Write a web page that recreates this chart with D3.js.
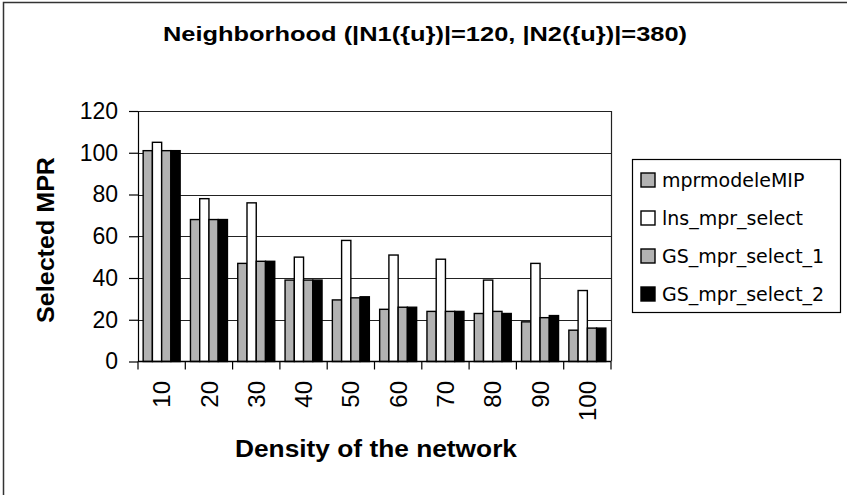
<!DOCTYPE html>
<html>
<head>
<meta charset="utf-8">
<script src="https://cdn.jsdelivr.net/npm/d3@7"></script>
<style>
  html, body { margin: 0; padding: 0; background: #fff; }
  svg { display: block; }
</style>
</head>
<body>
<svg id="chart" width="847" height="495"></svg>
<script>
// Network densities on the category axis
const densities = ["10", "20", "30", "40", "50", "60", "70", "80", "90", "100"];

// Number of selected MPR for each method
const seriesNames = ["mprmodeleMIP", "lns_mpr_select", "GS_mpr_select_1", "GS_mpr_select_2"];
const mprmodeleMIP   = [101, 68, 47, 39, 29.5, 25, 24, 23, 19, 15];
const lnsMprSelect   = [105, 78, 76, 50, 58, 51, 49, 39, 47, 34];
const gsMprSelect1   = [101, 68, 48, 39, 30.5, 26, 24, 24, 21, 16];
const gsMprSelect2   = [101, 68, 48, 39, 31, 26, 24, 23, 22, 16];
const seriesValues = [mprmodeleMIP, lnsMprSelect, gsMprSelect1, gsMprSelect2];
const seriesFill = ["#b2b2b2", "#ffffff", "#b2b2b2", "#000000"];

const yTicks = [0, 20, 40, 60, 80, 100, 120];

const titleText = "Neighborhood (|N1({u})|=120, |N2({u})|=380)";
const xTitle = "Density of the network";
const yTitle = "Selected MPR";

const svg = d3.select("#chart");
const plot = { left: 138, right: 611, top: 111, bottom: 361.5 };

// Chart frame
svg.append("path")
  .attr("d", "M3.5,495 V2.5 H847")
  .attr("fill", "none")
  .attr("stroke", "#333")
  .attr("stroke-width", 1.5);

// Scales
const x0 = d3.scaleBand()
  .domain(densities)
  .range([plot.left, plot.right])
  .paddingInner(0.218)
  .paddingOuter(0.109);

const x1 = d3.scaleBand()
  .domain(seriesNames)
  .range([0, x0.bandwidth()]);

const y = d3.scaleLinear()
  .domain([0, 120])
  .range([plot.bottom, plot.top]);

// Horizontal gridlines
svg.append("g")
  .selectAll("line")
  .data(yTicks.filter(d => d > 0))
  .join("line")
  .attr("x1", plot.left)
  .attr("x2", plot.right)
  .attr("y1", d => Math.round(y(d)) + 0.5)
  .attr("y2", d => Math.round(y(d)) + 0.5)
  .attr("stroke", "#222")
  .attr("stroke-width", 1);

// Right edge of the plot area
svg.append("line")
  .attr("x1", plot.right + 0.5).attr("x2", plot.right + 0.5)
  .attr("y1", y(120)).attr("y2", plot.bottom)
  .attr("stroke", "#222").attr("stroke-width", 1.2);

// Bars
const rows = densities.map((d, i) => ({
  density: d,
  values: seriesNames.map((s, j) => ({ series: s, value: seriesValues[j][i], fill: seriesFill[j] }))
}));

svg.append("g")
  .selectAll("g")
  .data(rows)
  .join("g")
  .attr("transform", d => `translate(${x0(d.density)},0)`)
  .selectAll("rect")
  .data(d => d.values)
  .join("rect")
  .attr("x", d => x1(d.series))
  .attr("width", x1.bandwidth())
  .attr("y", d => y(d.value))
  .attr("height", d => y(0) - y(d.value))
  .attr("fill", d => d.fill)
  .attr("stroke", "#000")
  .attr("stroke-width", 1.4);

// Y axis
const yAxis = svg.append("g")
  .attr("transform", `translate(${plot.left},0)`)
  .call(d3.axisLeft(y).tickValues(yTicks).tickSize(9).tickPadding(11).tickSizeOuter(0));
yAxis.select(".domain").attr("stroke", "#000").attr("stroke-width", 1.2);
yAxis.selectAll(".tick line").attr("stroke", "#000").attr("stroke-width", 1.2);
yAxis.selectAll("text")
  .attr("font-family", "Liberation Sans, Arial, sans-serif")
  .attr("font-size", 23)
  .attr("fill", "#000");

// X axis with ticks between categories
const xAxisG = svg.append("g");
xAxisG.append("line")
  .attr("x1", plot.left).attr("x2", plot.right)
  .attr("y1", plot.bottom).attr("y2", plot.bottom)
  .attr("stroke", "#000").attr("stroke-width", 1.4);

const step = x0.step();
const boundaries = d3.range(densities.length + 1).map(i => plot.left + i * step);
xAxisG.selectAll("line.tick")
  .data(boundaries)
  .join("line")
  .attr("class", "tick")
  .attr("x1", d => d).attr("x2", d => d)
  .attr("y1", plot.bottom).attr("y2", plot.bottom + 8)
  .attr("stroke", "#000").attr("stroke-width", 1.2);

xAxisG.selectAll("text")
  .data(densities)
  .join("text")
  .attr("transform", d => `translate(${x0(d) + x0.bandwidth() / 2},381) rotate(-90)`)
  .attr("text-anchor", "end")
  .attr("dy", "0.36em")
  .attr("font-family", "Liberation Sans, Arial, sans-serif")
  .attr("font-size", 24)
  .attr("fill", "#000")
  .text(d => d);

// Title and axis titles
svg.append("text")
  .attr("x", 163).attr("y", 41)
  .attr("textLength", 524)
  .attr("lengthAdjust", "spacingAndGlyphs")
  .attr("font-family", "Liberation Sans, Arial, sans-serif")
  .attr("font-weight", "bold")
  .attr("font-size", 21)
  .attr("fill", "#000")
  .text(titleText);

svg.append("text")
  .attr("x", 235).attr("y", 457)
  .attr("textLength", 282)
  .attr("lengthAdjust", "spacingAndGlyphs")
  .attr("font-family", "Liberation Sans, Arial, sans-serif")
  .attr("font-weight", "bold")
  .attr("font-size", 23)
  .attr("fill", "#000")
  .text(xTitle);

svg.append("text")
  .attr("transform", "translate(54,323) rotate(-90)")
  .attr("textLength", 166)
  .attr("lengthAdjust", "spacingAndGlyphs")
  .attr("font-family", "Liberation Sans, Arial, sans-serif")
  .attr("font-weight", "bold")
  .attr("font-size", 23)
  .attr("fill", "#000")
  .text(yTitle);

// Legend
const legend = svg.append("g");
legend.append("rect")
  .attr("x", 632.5).attr("y", 159.5)
  .attr("width", 208).attr("height", 153)
  .attr("fill", "#fff")
  .attr("stroke", "#000")
  .attr("stroke-width", 1.2);

const rowY = d3.scalePoint().domain(seriesNames).range([180, 294]);
const items = legend.selectAll("g.item")
  .data(seriesNames.map((s, j) => ({ name: s, fill: seriesFill[j] })))
  .join("g")
  .attr("class", "item")
  .attr("transform", d => `translate(0,${rowY(d.name)})`);

items.append("rect")
  .attr("x", 641).attr("y", -7)
  .attr("width", 14).attr("height", 14)
  .attr("fill", d => d.fill)
  .attr("stroke", "#000")
  .attr("stroke-width", 1.4);

items.append("text")
  .attr("x", 662).attr("y", 0)
  .attr("dy", "0.36em")
  .attr("font-family", "DejaVu Sans, sans-serif")
  .attr("font-size", 19)
  .attr("fill", "#000")
  .text(d => d.name);
</script>
</body>
</html>
